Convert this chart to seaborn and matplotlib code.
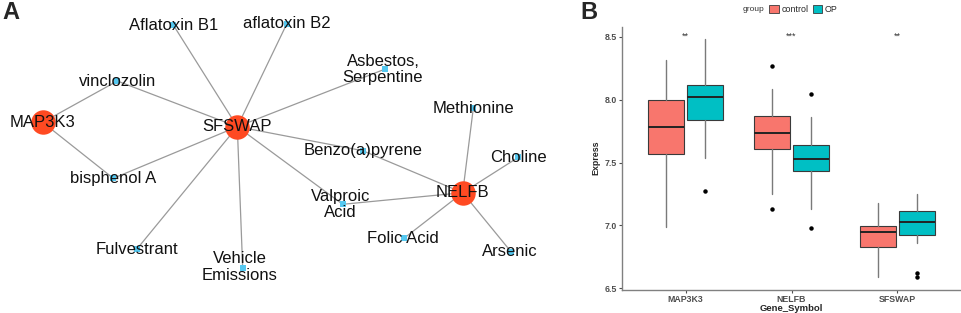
import matplotlib
matplotlib.use("Agg")
import matplotlib.pyplot as plt
from matplotlib.patches import Patch
import seaborn as sns
import pandas as pd

# ---- panel A: gene / chemical network ----
genes = ["MAP3K3", "SFSWAP", "NELFB"]
chemicals = ["Aflatoxin B1", "aflatoxin B2", "vinclozolin", "Asbestos,\nSerpentine",
             "Methionine", "Benzo(a)pyrene", "Choline", "bisphenol A", "Fulvestrant",
             "Vehicle\nEmissions", "Valproic\nAcid", "Folic Acid", "Arsenic"]
edges = [("MAP3K3", "vinclozolin"), ("MAP3K3", "bisphenol A"),
         ("SFSWAP", "Aflatoxin B1"), ("SFSWAP", "aflatoxin B2"), ("SFSWAP", "vinclozolin"),
         ("SFSWAP", "Asbestos,\nSerpentine"), ("SFSWAP", "bisphenol A"),
         ("SFSWAP", "Fulvestrant"), ("SFSWAP", "Vehicle\nEmissions"),
         ("SFSWAP", "Valproic\nAcid"), ("SFSWAP", "Benzo(a)pyrene"),
         ("NELFB", "Benzo(a)pyrene"), ("NELFB", "Valproic\nAcid"), ("NELFB", "Methionine"),
         ("NELFB", "Choline"), ("NELFB", "Arsenic"), ("NELFB", "Folic Acid")]

# layout (pixel-like canvas coordinates)
layout = {
    "MAP3K3": (42.7, 122.3), "SFSWAP": (237.3, 126.7), "NELFB": (462.7, 192.7),
    "Aflatoxin B1": (173.3, 25), "aflatoxin B2": (286.7, 24), "vinclozolin": (117.3, 81),
    "Asbestos,\nSerpentine": (385.3, 69), "Methionine": (473.3, 108.3),
    "Benzo(a)pyrene": (362.7, 150.7), "Choline": (518.3, 157.3),
    "bisphenol A": (113.3, 178.3), "Fulvestrant": (136.7, 249.3),
    "Vehicle\nEmissions": (242.7, 268.3), "Valproic\nAcid": (342.7, 204.3),
    "Folic Acid": (404, 238.3), "Arsenic": (511, 251.7),
}
label_pos = {
    "Asbestos,\nSerpentine": (383, 69.5), "Vehicle\nEmissions": (239.5, 267),
    "Valproic\nAcid": (340.3, 204.5), "Folic Acid": (402.5, 238.3), "Arsenic": (510, 251.7),
}

# ---- panel B: expression boxplots (ggplot style) ----
genes_b = ["MAP3K3", "NELFB", "SFSWAP"]
groups = ["control", "OP"]
control_lo = [6.99, 7.252, 6.588]
control_q1 = [7.565, 7.608, 6.827]
control_med = [7.783, 7.738, 6.946]
control_q3 = [8.0, 7.873, 6.994]
control_hi = [8.314, 8.083, 7.18]
control_fliers = [[], [8.27, 7.127], []]
op_lo = [7.536, 7.127, 6.859]
op_q1 = [7.836, 7.432, 6.92]
op_med = [8.017, 7.528, 7.029]
op_q3 = [8.115, 7.637, 7.111]
op_hi = [8.48, 7.863, 7.252]
op_fliers = [[7.273], [8.043, 6.98], [6.622, 6.59]]
signif = ["**", "***", "**"]

sns.set_theme(style="white")
plt.rcParams["font.family"] = ["Liberation Sans", "DejaVu Sans"]

fig = plt.figure(figsize=(9.62, 3.13), dpi=100)

# ---------- A ----------
ax_a = fig.add_axes([0, 0, 577.2 / 962, 1])
ax_a.set_xlim(0, 577.2)
ax_a.set_ylim(313, 0)
ax_a.axis("off")

for a, b in edges:
    xa, ya = layout[a]
    xb, yb = layout[b]
    ax_a.plot([xa, xb], [ya, yb], color="#9a9a9a", lw=0.9, zorder=1)

nodes = pd.DataFrame({
    "name": genes + chemicals,
    "kind": ["gene"] * len(genes) + ["chemical"] * len(chemicals),
})
nodes["x"] = [layout[n][0] for n in nodes["name"]]
nodes["y"] = [layout[n][1] for n in nodes["name"]]

sns.scatterplot(data=nodes[nodes["kind"] == "gene"], x="x", y="y", ax=ax_a,
                color="#ff4a22", s=310, marker="o", linewidth=0, zorder=2, legend=False)
sns.scatterplot(data=nodes[nodes["kind"] == "chemical"], x="x", y="y", ax=ax_a,
                color="#55c8f0", s=22, marker="s", linewidth=0, zorder=2, legend=False)
ax_a.set_xlabel("")
ax_a.set_ylabel("")

for n in nodes["name"]:
    x, y = label_pos.get(n, layout[n])
    ax_a.text(x, y, n, ha="center", va="center", fontsize=12, color="#111111",
              linespacing=1.15, zorder=3)

# ---------- B ----------
ax_b = fig.add_axes([0.6466, 0.0748, 0.3524, 0.840])
colors = {"control": "#F8766D", "OP": "#00BFC4"}
offset = 0.185
stats_src = {
    "control": (control_lo, control_q1, control_med, control_q3, control_hi, control_fliers),
    "OP": (op_lo, op_q1, op_med, op_q3, op_hi, op_fliers),
}
for gi, grp in enumerate(groups):
    lo, q1, med, q3, hi, fl = stats_src[grp]
    stats = [dict(whislo=lo[i], q1=q1[i], med=med[i], q3=q3[i], whishi=hi[i], fliers=fl[i])
             for i in range(len(genes_b))]
    pos = [i + (offset if gi else -offset) for i in range(len(genes_b))]
    ax_b.bxp(stats, positions=pos, widths=0.34, patch_artist=True, showcaps=False,
             boxprops=dict(facecolor=colors[grp], edgecolor="#3a3a3a", linewidth=0.8),
             medianprops=dict(color="#222222", linewidth=1.4),
             whiskerprops=dict(color="#7a7a7a", linewidth=1.0),
             flierprops=dict(marker="o", markersize=2.2, markerfacecolor="black",
                             markeredgecolor="black"),
             manage_ticks=False)

for i, s in enumerate(signif):
    ax_b.text(i, 8.5, s, ha="center", va="center", fontsize=6.5, color="#333333")

ax_b.set_xlim(-0.6, 2.6)
ax_b.set_ylim(6.49, 8.58)
ax_b.set_xticks(range(len(genes_b)))
ax_b.set_xticklabels(genes_b)
ax_b.set_yticks([6.5, 7.0, 7.5, 8.0, 8.5])
ax_b.set_yticklabels(["6.5", "7.0", "7.5", "8.0", "8.5"])
ax_b.tick_params(axis="both", which="both", labelsize=6.3, colors="#4d4d4d",
                 length=2.5, width=0.8, pad=1.2, bottom=True, left=True)
for lab in ax_b.get_xticklabels() + ax_b.get_yticklabels():
    lab.set_fontweight("bold")
for side in ["top", "right"]:
    ax_b.spines[side].set_visible(False)
for side in ["left", "bottom"]:
    ax_b.spines[side].set_color("#808080")
    ax_b.spines[side].set_linewidth(1.0)
ax_b.set_xlabel("Gene_Symbol", fontsize=6.8, fontweight="bold", labelpad=0)
ax_b.set_ylabel("Express", fontsize=6.4, fontweight="bold", labelpad=3)

fig.text(0.772, 0.969, "group", fontsize=6, color="#333333", ha="left", va="center")
handles = [Patch(facecolor=colors[g], edgecolor="#3a3a3a", linewidth=0.6, label=g) for g in groups]
fig.legend(handles=handles, ncol=2, loc="center", bbox_to_anchor=(0.835, 0.969),
           frameon=False, fontsize=6.4, handlelength=1.1, handleheight=0.9,
           handletextpad=0.3, columnspacing=0.5, borderpad=0)

fig.text(0.002, 0.998, "A", fontsize=17, fontweight="bold", ha="left", va="top")
fig.text(0.603, 0.998, "B", fontsize=17, fontweight="bold", ha="left", va="top")

fig.savefig("out.png", dpi=100)
